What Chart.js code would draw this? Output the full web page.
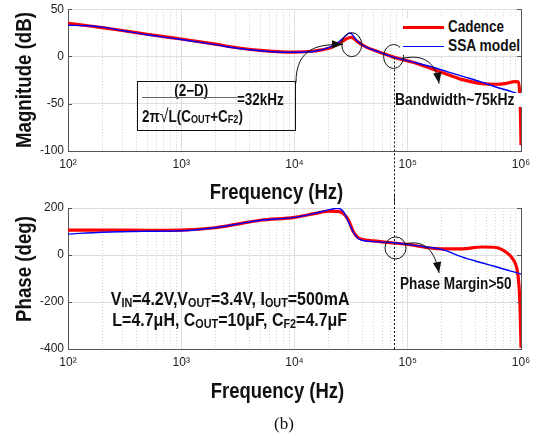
<!DOCTYPE html>
<html>
<head>
<meta charset="utf-8">
<script src="https://cdn.jsdelivr.net/npm/chart.js@4.4.1/dist/chart.umd.min.js"></script>
<style>
  body { margin: 0; background: #fff; width: 543px; height: 436px; overflow: hidden; position: relative; }
  .wrap { position: absolute; left: 0; width: 543px; }
  #magWrap { top: -2px; height: 205px; }
  #phaseWrap { top: 195px; height: 210px; }
  .abs { position: absolute; }
  .nar { font-family: "Liberation Sans", Arial, sans-serif; font-weight: bold; color: #111; white-space: nowrap; }
  /* no narrow face installed: squeeze the bold sans horizontally */
  .sq { display: inline-block; transform: scaleX(0.84); transform-origin: left center; }
  .sqc { display: inline-block; transform: scaleX(0.84); transform-origin: center center; }
  sub { font-size: 0.68em; vertical-align: -0.12em; line-height: 0; }
  .xt { width: 300px; text-align: center; font-size: 22px; line-height: 26px; }
  .yt { width: 200px; height: 26px; text-align: center; font-size: 22px; line-height: 26px; transform: rotate(-90deg) scaleX(0.85); }
  #legendBg { left: 400px; top: 18px; width: 121px; height: 37px; background: #fff; }
  .swatch { position: absolute; left: 403px; width: 41px; }
  .leg { left: 448px; font-size: 16px; line-height: 18px; }
  #box { left: 137px; top: 81px; width: 159px; height: 50px; box-sizing: border-box; border: 1px solid #111; }
  .fm { font-size: 16px; line-height: 18px; }
  #cap { left: 0; width: 568px; top: 414px; text-align: center; font-family: "Liberation Serif", "Times New Roman", serif; font-size: 17px; color: #111; }
</style>
</head>
<body>
<div id="magWrap" class="wrap"><canvas id="magChart" width="543" height="205"></canvas></div>
<div id="phaseWrap" class="wrap"><canvas id="phaseChart" width="543" height="210"></canvas></div>

<!-- axis titles -->
<div class="abs nar yt" style="left:-76px;top:67px">Magnitude (dB)</div>
<div class="abs nar yt" style="left:-76px;top:256px">Phase (deg)</div>
<div class="abs nar xt" style="left:126px;top:179px"><span class="sqc">Frequency (Hz)</span></div>
<div class="abs nar xt" style="left:127px;top:378px"><span class="sqc">Frequency (Hz)</span></div>

<!-- legend -->
<div id="legendBg" class="abs"></div>
<div class="swatch" style="top:25.5px;border-top:3px solid #ff0000"></div>
<div class="swatch" style="top:45.5px;border-top:1.5px solid #0000ff"></div>
<div class="abs nar leg" style="top:18px"><span class="sq">Cadence</span></div>
<div class="abs nar leg" style="top:37px"><span class="sq" style="transform:scaleX(0.86)">SSA model</span></div>

<!-- resonance formula -->
<div id="box" class="abs"></div>
<div class="abs nar fm" style="left:141px;top:82px;width:100px;text-align:center"><span class="sqc">(2&minus;D)</span></div>
<div class="abs" style="left:142px;top:97px;width:95px;border-top:1.5px solid #666"></div>
<div class="abs nar fm" style="left:237px;top:91px"><span class="sq">=32kHz</span></div>
<div class="abs nar fm" style="left:142px;top:107px"><span class="sq">2&pi;<span style="font-size:19px;font-weight:normal">&radic;</span>L(C<sub>OUT</sub>+C<sub>F2</sub>)</span></div>

<!-- notes -->
<div class="abs nar" style="left:395px;top:93px;font-size:16px;line-height:14px;background:#fff"><span class="sq" style="transform:scaleX(0.87)">Bandwidth~75kHz</span></div>
<div class="abs nar" style="left:400px;top:276px;font-size:16px;line-height:15px"><span class="sq" style="transform:scaleX(0.85)">Phase Margin&gt;50</span></div>
<div class="abs nar" style="left:80px;width:300px;text-align:center;top:288px;font-size:19px;line-height:21px">
  <span class="sqc">V<sub>IN</sub>=4.2V,V<sub>OUT</sub>=3.4V, I<sub>OUT</sub>=500mA</span><br>
  <span class="sqc">L=4.7&mu;H, C<sub>OUT</sub>=10&mu;F, C<sub>F2</sub>=4.7&mu;F</span>
</div>
<div id="cap" class="abs">(b)</div>

<script>
// Bode plot: Cadence simulation vs SSA model (magnitude + phase)
const freqMag = [100, 150, 200, 300, 500, 700, 1000, 2000, 3000, 5000, 7000, 10000, 15000, 20500,
  25000, 27800, 30800, 31600, 33000, 35700, 43000, 57000, 75000, 113000, 158000, 222000, 311000,
  436000, 610000, 745000, 880000, 950000, 975000, 990000, 1000000];
const magCadence = [35, 32.5, 30.5, 27.5, 23.5, 21, 18.5, 13, 9.5, 6.5, 5.2, 4.6, 5.8, 8.9,
  14, 17.7, 20, 20.2, 19.5, 16, 9.9, 4.3, -0.7, -6.4, -12.4, -18.8, -24.8,
  -28.4, -29.4, -28.4, -26.6, -26.8, -40, -62, -94];
const magSSA = [33, 32.5, 31, 27.5, 23, 20.5, 18, 12.5, 9, 6, 4.8, 4.5, 5.5, 9.9,
  16, 21, 24.8, 24.5, 22, 16.5, 9.9, 4.3, -0.7, -6, -10.6, -16, -21.3,
  -26.6, -32.6, -35.5, -38.3, -39.6, -40.2, -40.5, -40.8];

const freqPhase = [100, 200, 500, 1000, 2000, 3000, 5000, 10000, 15000, 20000, 24000, 27000, 30000,
  33000, 36000, 40000, 50000, 75000, 100000, 150000, 200000, 300000, 450000, 600000, 750000,
  850000, 920000, 960000, 985000, 1000000];
const phaseCadence = [106, 106, 105, 106, 116, 130, 148, 160, 176, 187, 186, 176, 148,
  100, 76, 66, 60, 51, 45, 31, 26, 26, 34, 32, 10,
  -18, -58, -130, -250, -395];
const phaseSSA = [89, 97, 101, 103, 116, 130, 148, 160, 177, 192, 199, 185, 140,
  98, 72, 62, 57, 52, 45, 33, 24, -8, -33, -50, -64,
  -71, -76, -78, -80, -82];

const decades = [100, 1000, 10000, 100000, 1000000];
const decadeLabels = ["10\u00B2", "10\u00B3", "10\u2074", "10\u2075", "10\u2076"];
const bandwidthHz = 75000;

const PLAIN = "'Liberation Sans', Arial, sans-serif";
const AXIS = "#555";

// 1..9 per decade, only used for gridlines
const xTicks = [];
decades.forEach((d, i) => {
  if (i === decades.length - 1) { xTicks.push(d); return; }
  for (let k = 1; k < 10; k++) xTicks.push(d * k);
});
const isDecade = v => decades.indexOf(v) >= 0;

function pts(xs, ys) { return xs.map((x, i) => ({ x: x, y: ys[i] })); }

function sets(xs, red, blue) {
  return [
    { label: "Cadence", data: pts(xs, red), borderColor: "#ff0000", borderWidth: 3.2,
      pointRadius: 0, cubicInterpolationMode: "monotone", order: 1 },
    { label: "SSA model", data: pts(xs, blue), borderColor: "#0000ff", borderWidth: 1.4,
      pointRadius: 0, cubicInterpolationMode: "monotone", order: 0 },
  ];
}

function ellipse(ctx, x, y, rx, ry) {
  ctx.beginPath();
  ctx.ellipse(x, y, rx, ry, 0, 0, Math.PI * 2);
  ctx.stroke();
}

function curvedArrow(ctx, p) {
  ctx.beginPath();
  ctx.moveTo(p[0].x, p[0].y);
  ctx.bezierCurveTo(p[1].x, p[1].y, p[2].x, p[2].y, p[3].x, p[3].y);
  ctx.stroke();
  const a = Math.atan2(p[3].y - p[2].y, p[3].x - p[2].x);
  const L = 11, W = 4.2;
  const bx = p[3].x - L * Math.cos(a), by = p[3].y - L * Math.sin(a);
  ctx.beginPath();
  ctx.moveTo(p[3].x, p[3].y);
  ctx.lineTo(bx + W * Math.sin(a), by - W * Math.cos(a));
  ctx.lineTo(bx - W * Math.sin(a), by + W * Math.cos(a));
  ctx.closePath();
  ctx.fill();
}

// frame pieces, rings, arrows and the 75 kHz marker
const decor = {
  id: "decor",
  afterDraw(chart, args, o) {
    const { ctx, chartArea: ca, scales: { x, y } } = chart;
    const px = (f, v) => ({ x: x.getPixelForValue(f), y: y.getPixelForValue(v) });
    ctx.save();
    ctx.strokeStyle = AXIS;
    ctx.lineWidth = 1;
    ctx.beginPath();
    ctx.moveTo(ca.right + 0.5, ca.top);
    ctx.lineTo(ca.right + 0.5, ca.bottom);
    y.ticks.forEach(t => {
      const yy = Math.round(y.getPixelForValue(t.value)) + 0.5;
      ctx.moveTo(ca.left, yy); ctx.lineTo(ca.left + 4, yy);
      ctx.moveTo(ca.right, yy); ctx.lineTo(ca.right - 4, yy);
    });
    ctx.stroke();

    ctx.strokeStyle = "#111";
    ctx.fillStyle = "#111";
    ctx.lineWidth = 1;
    o.rings.forEach(r => { const c = px(r.f, r.v); ellipse(ctx, c.x, c.y, r.rx, r.ry); });
    o.arrows.forEach(a => curvedArrow(ctx, a.map(q => px(q[0], q[1]))));

    const bx = Math.round(x.getPixelForValue(bandwidthHz)) + 0.5;
    ctx.setLineDash([2, 2]);
    ctx.beginPath();
    ctx.moveTo(bx, o.lineFrom === null ? 0 : y.getPixelForValue(o.lineFrom));
    ctx.lineTo(bx, o.lineTo === null ? chart.height : ca.bottom);
    ctx.stroke();
    ctx.restore();
  }
};

function options(yMin, yMax, step, notes) {
  return {
    responsive: false,
    animation: false,
    layout: { padding: { left: 0, right: 22, top: notes.padTop, bottom: 0 } },
    plugins: { legend: { display: false }, tooltip: { enabled: false }, decor: notes },
    scales: {
      x: {
        type: "logarithmic", min: 100, max: 1000000,
        afterBuildTicks: s => { s.ticks = xTicks.map(v => ({ value: v, major: isDecade(v) })); },
        afterFit: s => { s.height = notes.xHeight; },
        ticks: {
          autoSkip: false, maxRotation: 0, padding: 6, color: "#222",
          font: { family: PLAIN, size: 12 },
          callback: v => isDecade(v) ? decadeLabels[decades.indexOf(v)] : "",
        },
        grid: {
          drawTicks: false,
          color: c => (c.tick && !isDecade(c.tick.value)) ? "#cfcfcf" : "#dedede",
          lineWidth: 1,
        },
        border: { color: AXIS, dash: c => (c.tick && !isDecade(c.tick.value)) ? [1, 2] : [] },
      },
      y: {
        min: yMin, max: yMax,
        afterFit: s => { s.width = 68; },
        ticks: { stepSize: step, padding: 4, color: "#222", font: { family: PLAIN, size: 12 } },
        grid: { drawTicks: false, color: "#dedede" },
        border: { color: AXIS },
      },
    },
  };
}

new Chart(document.getElementById("magChart"), {
  type: "line",
  data: { datasets: sets(freqMag, magCadence, magSSA) },
  options: options(-100, 50, 50, {
    padTop: 5.5, xHeight: 52,
    rings: [{ f: 32000, v: 12.5, rx: 10, ry: 12 }, { f: bandwidthHz, v: 0, rx: 10, ry: 12 }],
    arrows: [
      [[10300, -27.7], [10300, 10.6], [16800, 12.8], [26800, 12.8]],
      [[88900, -2.1], [142000, 3.2], [177000, -7.4], [189000, -28.7]],
    ],
    lineFrom: -1, lineTo: null,
  }),
  plugins: [decor],
});

new Chart(document.getElementById("phaseChart"), {
  type: "line",
  data: { datasets: sets(freqPhase, phaseCadence, phaseSSA) },
  options: options(-400, 200, 200, {
    padTop: 13, xHeight: 56,
    rings: [{ f: 78000, v: 30, rx: 10.5, ry: 11 }],
    arrows: [[[94600, 46.8], [142000, 68], [174000, 17], [189000, -77]]],
    lineFrom: null, lineTo: "area",
  }),
  plugins: [decor],
});
</script>
</body>
</html>
